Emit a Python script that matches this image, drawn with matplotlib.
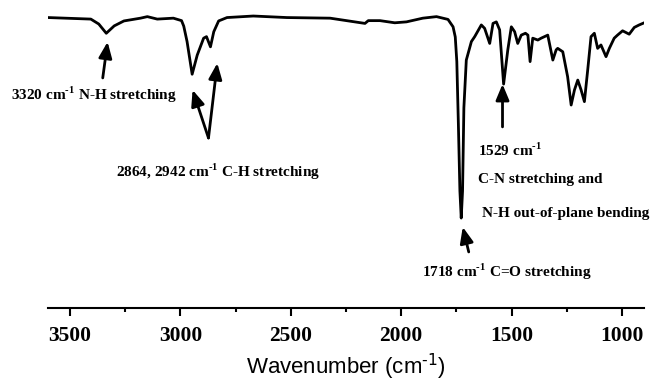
import matplotlib
matplotlib.use("Agg")
import matplotlib.pyplot as plt
from matplotlib.ticker import MultipleLocator

plt.rcParams['mathtext.fontset'] = 'custom'
plt.rcParams['mathtext.rm'] = 'Liberation Serif:bold'
plt.rcParams['mathtext.bf'] = 'Liberation Serif:bold'

# FTIR spectrum (wavenumber in cm-1, transmittance in %)
wavenumber = [3599, 3406, 3370, 3336, 3300, 3256, 3181, 3150, 3105, 3032, 2995,
              2985, 2970, 2947, 2924, 2895, 2882, 2864, 2849, 2827, 2789, 2670,
              2518, 2322, 2164, 2149, 2096, 2029, 1976, 1902, 1840, 1788, 1765,
              1755, 1748, 1741, 1734, 1728, 1722, 1716, 1705, 1682, 1667, 1637,
              1622, 1599, 1584, 1569, 1554, 1536, 1517, 1501, 1486, 1472, 1456,
              1437, 1426, 1416, 1404, 1381, 1366, 1336, 1313, 1298, 1291, 1268,
              1246, 1230, 1215, 1200, 1185, 1170, 1155, 1140, 1125, 1110, 1095,
              1072, 1057, 1035, 1020, 997, 967, 944, 922, 899]
transmittance = [94.3, 93.8, 92.2, 89.2, 91.6, 93.2, 94.1, 94.6, 93.8, 94.1, 93.3,
                 91.5, 86.5, 75.9, 82.1, 87.6, 88.1, 84.8, 89.7, 93.2, 94.3, 94.8,
                 94.3, 94.1, 92.4, 93.3, 93.3, 92.6, 92.9, 94.1, 94.6, 93.7, 91.3,
                 88.0, 80.0, 60.0, 38.0, 29.2, 38.0, 65.0, 80.5, 86.5, 88.1, 91.9,
                 90.8, 85.9, 92.4, 92.9, 90.3, 72.7, 83.8, 91.3, 89.7, 85.9, 88.6,
                 89.2, 88.6, 80.0, 87.6, 87.0, 87.6, 88.6, 80.5, 83.8, 84.3, 83.2,
                 75.1, 65.9, 70.8, 74.0, 70.8, 67.0, 77.3, 88.1, 89.2, 84.3, 85.4,
                 81.6, 84.3, 87.6, 88.6, 90.0, 88.9, 91.1, 91.9, 92.6]

# peak labels (text, left/centre position in data units) and arrows (head, tail)
cm = r'cm$^{\text{-1}}$'
labels = [
    ('3320 ' + cm + ' N-H stretching', (3768, 69.2)),
    ('2864, 2942 ' + cm + ' C-H stretching', (3293, 44.2)),
    ('1529 ' + cm, (1654, 51.3)),
    ('C-N stretching and', (1654, 41.6)),
    ('N-H out-of-plane bending', (1636, 30.8)),
    ('1718 ' + cm + ' C=O stretching', (1907, 11.7)),
]
arrows = [
    ((3330, 86.4), (3352, 74.7)),
    ((2945, 70.8), (2873, 55.2)),
    ((2833, 79.5), (2873, 55.2)),
    ((1541, 72.7), (1541, 58.8)),
    ((1721, 26.3), (1694, 18.2)),
]

fig = plt.figure(figsize=(6.56, 3.83), dpi=100)
ax = fig.add_axes([48 / 656, 1 - 308 / 383, 596 / 656, 308 / 383])

ax.plot(wavenumber, transmittance, color='black', lw=2.0, solid_joinstyle='round')
ax.set_xlim(3600, 900)
ax.set_ylim(0, 100)

for s in ['top', 'left', 'right']:
    ax.spines[s].set_visible(False)
ax.spines['bottom'].set_linewidth(1.5)
ax.set_yticks([])
ax.xaxis.set_major_locator(MultipleLocator(500))
ax.xaxis.set_minor_locator(MultipleLocator(250))
ax.tick_params(axis='x', which='major', direction='out', length=6, width=1.5, pad=7)
ax.tick_params(axis='x', which='minor', direction='out', length=3, width=1.5)
for lab in ax.get_xticklabels():
    lab.set_fontfamily('Liberation Serif')
    lab.set_fontweight('bold')
    lab.set_fontsize(15.5)

ax.set_xlabel(r'Wavenumber (cm$^{\text{-1}}$)', fontfamily='Liberation Sans',
              fontsize=16, labelpad=4)
ax.xaxis.label.set_math_fontfamily('dejavusans')

for txt, (x, y) in labels:
    ax.text(x, y, txt, fontfamily='Liberation Serif', fontweight='bold',
            fontsize=11, ha='left', va='center', clip_on=False)

for head, tail in arrows:
    ax.annotate('', xy=head, xytext=tail,
                arrowprops=dict(arrowstyle='-|>,head_length=0.6,head_width=0.25',
                                lw=2, color='black', mutation_scale=16,
                                shrinkA=0, shrinkB=0))

fig.savefig('out.png', dpi=100)
